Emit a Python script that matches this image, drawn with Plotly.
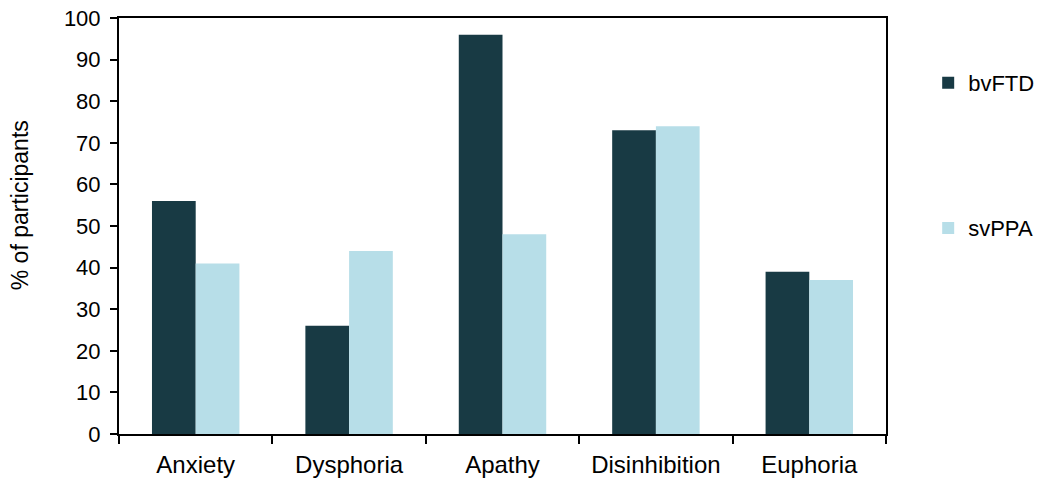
import plotly.graph_objects as go

categories = ["Anxiety", "Dysphoria", "Apathy", "Disinhibition", "Euphoria"]
bvftd = [56, 26, 96, 73, 39]
svppa = [41, 44, 48, 74, 37]
y_ticks = [0, 10, 20, 30, 40, 50, 60, 70, 80, 90, 100]

dark = "#183A44"
light = "#B7DEE8"
font_family = "Liberation Sans, Arial, sans-serif"

fig = go.Figure()
fig.add_trace(go.Bar(x=categories, y=bvftd, name="bvFTD", marker=dict(color=dark, line=dict(width=0)), legend="legend"))
fig.add_trace(go.Bar(x=categories, y=svppa, name="svPPA", marker=dict(color=light, line=dict(width=0)), legend="legend2"))

fig.update_layout(
    width=1042, height=473,
    margin=dict(l=111, r=164, t=10, b=47),
    paper_bgcolor="white", plot_bgcolor="white",
    font=dict(family=font_family, size=22, color="#000000"),
    barmode="group", bargap=0.43, bargroupgap=0,
    showlegend=True,
    legend=dict(x=1.055, y=0.844, xanchor="left", yanchor="middle", font=dict(size=22), bgcolor="rgba(0,0,0,0)", visible=True),
    legend2=dict(x=1.055, y=0.495, xanchor="left", yanchor="middle", font=dict(size=22), bgcolor="rgba(0,0,0,0)", visible=True),
    annotations=[dict(
        text="% of participants", textangle=-90, xref="paper", yref="paper",
        x=-0.129, y=0.550, xanchor="center", yanchor="middle", showarrow=False,
        font=dict(size=23),
    )],
)
fig.update_xaxes(
    type="category", tickson="boundaries", ticks="outside", ticklen=8, tickwidth=1.5, tickcolor="#000",
    showline=True, linecolor="#000", linewidth=2, mirror=True, showgrid=False,
    tickfont=dict(size=24), automargin=False, ticklabelstandoff=8,
)
fig.update_yaxes(
    range=[0, 100], tickvals=y_ticks, ticks="outside", ticklen=7, tickwidth=1.5, tickcolor="#000",
    showline=True, linecolor="#000", linewidth=2, mirror=True, showgrid=False, zeroline=False,
    tickfont=dict(size=22), automargin=False, ticklabelstandoff=5, ticklabeloverflow="allow",
)

fig.write_html("out.html")
